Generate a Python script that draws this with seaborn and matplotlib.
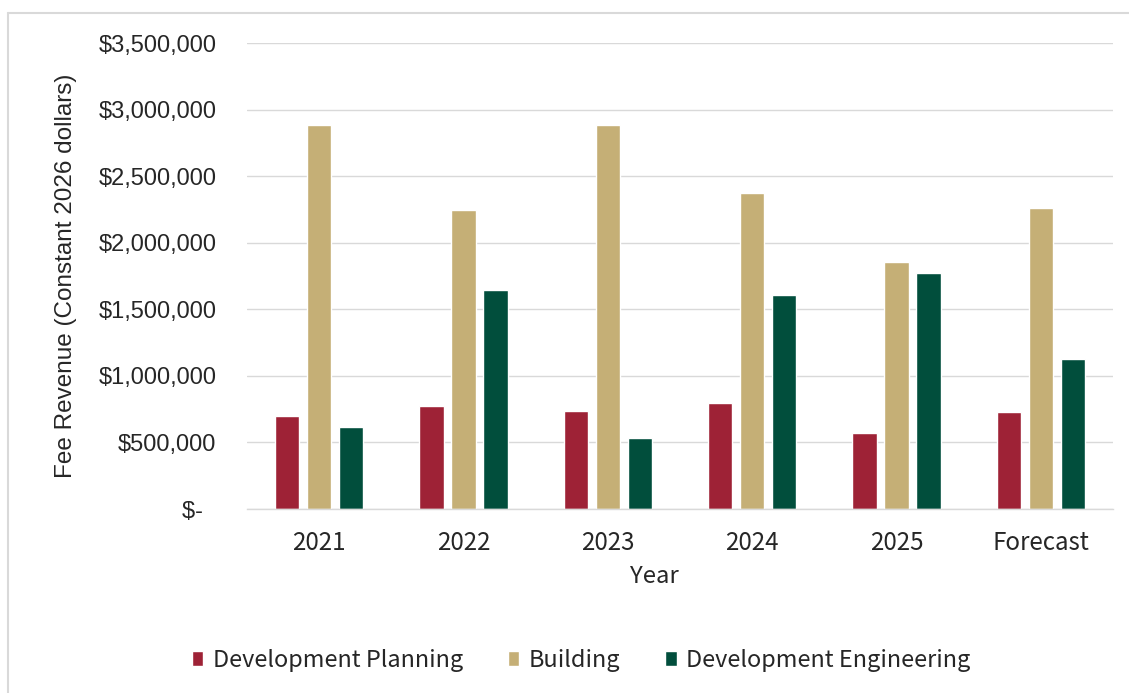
import matplotlib
matplotlib.use("Agg")
import matplotlib.pyplot as plt
from matplotlib.ticker import FuncFormatter
from matplotlib.lines import Line2D
import pandas as pd
import seaborn as sns

# Fee revenue by division (constant 2026 dollars)
years = ["2021", "2022", "2023", "2024", "2025", "Forecast"]
development_planning = [700000, 770000, 737000, 797000, 574000, 727000]
building = [2884000, 2247000, 2884000, 2374000, 1855000, 2262000]
development_engineering = [615000, 1642000, 537000, 1609000, 1772000, 1130000]

series_names = ["Development Planning", "Building", "Development Engineering"]
series_colors = ["#9E2236", "#C5AF76", "#014E3C"]

df = pd.DataFrame({
    "Year": years * 3,
    "Division": [series_names[0]] * 6 + [series_names[1]] * 6 + [series_names[2]] * 6,
    "Revenue": development_planning + building + development_engineering,
})

sns.set_theme(style="white")
label_font = ["Noto Sans CJK JP", "DejaVu Sans"]
value_font = ["Liberation Sans", "DejaVu Sans"]
plt.rcParams["font.family"] = label_font

fig = plt.figure(figsize=(11.29, 6.93), dpi=100)
ax = fig.add_axes([247 / 1129, 1 - 509 / 693, (1113 - 247) / 1129, (509 - 43) / 693])

sns.barplot(
    data=df, x="Year", y="Revenue", hue="Division",
    hue_order=series_names, palette=series_colors,
    order=years, width=0.665, gap=0.23, errorbar=None,
    saturation=1, ax=ax, legend=True,
)

ax.set_ylim(0, 3500000)
ax.set_xlim(-0.5, len(years) - 0.5)
ax.set_yticks(range(0, 3500001, 500000))


def money(v, _pos):
    if v == 0:
        return "$-  "
    return f"${v:,.0f}"


ax.yaxis.set_major_formatter(FuncFormatter(money))
ax.grid(axis="y", color="#D9D9D9", linewidth=1.0)
ax.set_axisbelow(True)
for side in ["top", "right", "left"]:
    ax.spines[side].set_visible(False)
ax.spines["bottom"].set_color("#D9D9D9")
ax.spines["bottom"].set_linewidth(1.0)

ax.tick_params(axis="y", length=0, pad=22, labelsize=17, labelcolor="#262626")
ax.tick_params(axis="x", length=0, pad=15, labelsize=17.4, labelcolor="#262626")
for t in ax.get_yticklabels():
    t.set_fontfamily(value_font)

ax.set_xlabel("Year", fontsize=17.2, color="#262626")
ax.xaxis.set_label_coords(0.47, -0.1438)
ax.xaxis.label.set_verticalalignment("center")
ax.set_ylabel("Fee Revenue (Constant 2026 dollars)", fontsize=17.5,
              color="#262626", family=value_font)
ax.yaxis.set_label_coords(-0.209, 0.5)
ax.yaxis.label.set_verticalalignment("center")

handles, labels = ax.get_legend_handles_labels()
ax.get_legend().remove()
fig.legend(
    handles, labels, loc="center", bbox_to_anchor=(581 / 1129, 1 - 660 / 693),
    ncol=3, frameon=False, fontsize=16.9, handlelength=0.5, handleheight=0.6,
    handletextpad=0.4, columnspacing=1.9, labelcolor="#262626",
)

# Chart area border (top and left edges)
border = "#D9D9D9"
fig.add_artist(Line2D([8 / 1129, 1.0], [1 - 13 / 693] * 2, color=border,
                      linewidth=1.5, transform=fig.transFigure))
fig.add_artist(Line2D([8 / 1129] * 2, [0.0, 1 - 13 / 693], color=border,
                      linewidth=1.5, transform=fig.transFigure))

fig.savefig("out.png", dpi=100)
